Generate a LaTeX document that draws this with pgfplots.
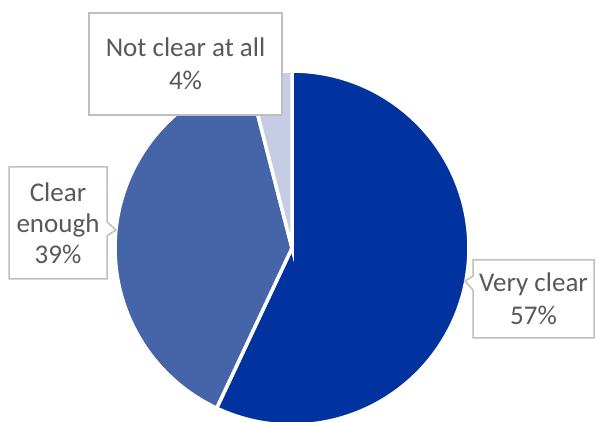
\documentclass[border=0pt]{standalone}
\usepackage{pgfplots}
\pgfplotsset{compat=1.18}
\usepackage{fontspec}
\setmainfont{Carlito}
\usetikzlibrary{shapes.callouts}
\definecolor{cA}{RGB}{0,51,160}
\definecolor{cB}{RGB}{70,100,168}
\definecolor{cC}{RGB}{197,204,227}
\definecolor{txt}{RGB}{89,89,89}
\definecolor{bord}{RGB}{191,191,191}
% shares (percent)
\def\vA{57}\def\vB{39}\def\vC{4}
\pgfmathsetmacro{\aA}{90-3.6*\vA}
\pgfmathsetmacro{\aB}{\aA-3.6*\vB}
\pgfmathsetmacro{\aC}{\aB-3.6*\vC}
\begin{document}
\begin{tikzpicture}
\begin{axis}[width=596bp,height=422bp,scale only axis,
  xmin=-292,xmax=304,ymin=-174,ymax=248,hide axis,clip=false]
\addplot[fill=cA,draw=white,line width=3.5bp,domain=\aA:90,samples=90,variable=\t]
  ({177*cos(\t)},{177*sin(\t)}) -- (axis cs:0,0) -- cycle;
\addplot[fill=cB,draw=white,line width=3.5bp,domain=\aB:\aA,samples=70,variable=\t]
  ({177*cos(\t)},{177*sin(\t)}) -- (axis cs:0,0) -- cycle;
\addplot[fill=cC,draw=white,line width=3.5bp,domain=\aC:\aB,samples=12,variable=\t]
  ({177*cos(\t)},{177*sin(\t)}) -- (axis cs:0,0) -- cycle;
\tikzset{lab/.style={draw=bord,line width=1.5bp,fill=white,text=txt,align=center,
  inner sep=0pt,font=\fontsize{27bp}{33bp}\selectfont}}
\node[lab,rectangle callout,callout absolute pointer={(axis cs:173,-33)},callout pointer width=14bp,
  minimum width=121bp,minimum height=78bp] at (axis cs:241.5,-51) {Very clear\\57\%};
\node[lab,rectangle callout,callout absolute pointer={(axis cs:-176,18)},callout pointer width=14bp,
  minimum width=98bp,minimum height=112bp,font=\fontsize{27bp}{31bp}\selectfont] at (axis cs:-234,25) {Clear\\enough\\39\%};
\node[lab,minimum width=193bp,minimum height=102bp] at (axis cs:-106.5,184) {Not clear at all\\4\%};
\coordinate (bbSW) at (rel axis cs:0,0);
\coordinate (bbNE) at (rel axis cs:1,1);
\end{axis}
\pgfresetboundingbox
\useasboundingbox (bbSW) rectangle (bbNE);
\end{tikzpicture}
\end{document}
